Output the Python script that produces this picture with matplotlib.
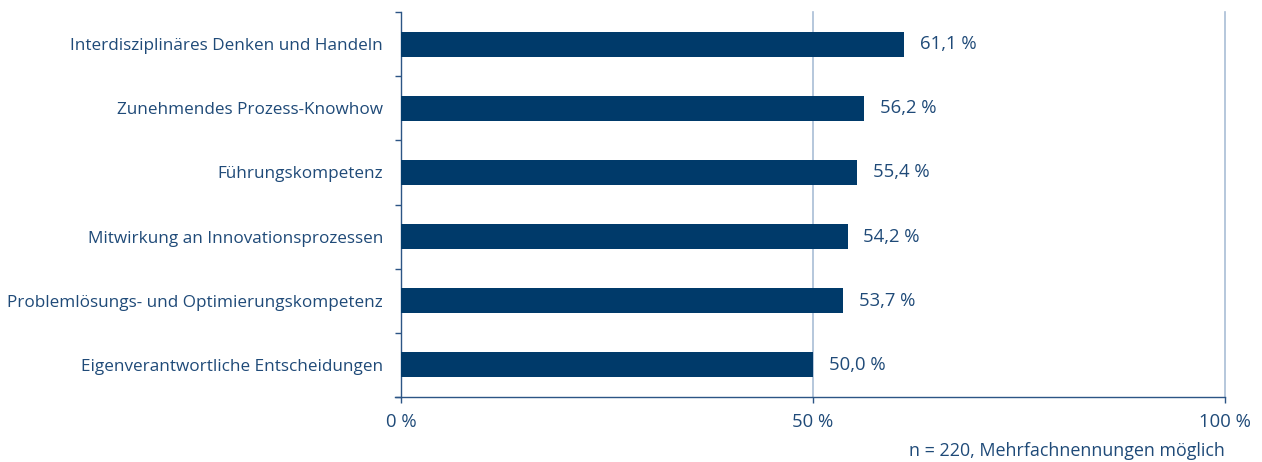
import matplotlib
matplotlib.use("Agg")
import matplotlib.pyplot as plt
import numpy as np

categories = [
    "Interdisziplinäres Denken und Handeln",
    "Zunehmendes Prozess-Knowhow",
    "Führungskompetenz",
    "Mitwirkung an Innovationsprozessen",
    "Problemlösungs- und Optimierungskompetenz",
    "Eigenverantwortliche Entscheidungen",
]
values = [61.1, 56.2, 55.4, 54.2, 53.7, 50.0]
value_labels = ["61,1 %", "56,2 %", "55,4 %", "54,2 %", "53,7 %", "50,0 %"]
xticks = [0, 50, 100]
xtick_labels = ["0 %", "50 %", "100 %"]
note = "n = 220, Mehrfachnennungen möglich"

bar_color = "#003a6a"
text_color = "#1f4a78"
axis_color = "#2c5585"
grid_color = "#a9bdd6"

plt.rcParams['font.family'] = ['Open Sans', 'DejaVu Sans']

fig = plt.figure(figsize=(12.62, 4.62), dpi=100)
ax = fig.add_axes([401/1262, 1-397/462, (1225-401)/1262, (397-12)/462])

n = len(categories)
y = np.arange(n)
ax.barh(y, values, height=0.39, color=bar_color, zorder=3)
ax.set_ylim(n - 0.5, -0.5)
ax.set_xlim(0, 100)

for yi, v, lab in zip(y, values, value_labels):
    ax.text(v + 1.9, yi, lab, va='center', ha='left', fontsize=13.3, color=text_color)

ax.set_yticks(y)
ax.set_yticklabels(categories, fontsize=12.3, color=text_color)
ax.tick_params(axis='y', which='major', length=0, pad=13)
ax.set_yticks(np.arange(n + 1) - 0.5, minor=True)
ax.tick_params(axis='y', which='minor', length=4.5, width=1, color=axis_color, direction='out')

ax.set_xticks(xticks)
ax.set_xticklabels(xtick_labels, fontsize=13.3, color=text_color)
ax.tick_params(axis='x', length=4.5, width=1, color=axis_color, pad=7, direction='out')

for x in xticks[1:]:
    ax.axvline(x, color=grid_color, lw=1.2, zorder=1, clip_on=False)

for s in ['top', 'right']:
    ax.spines[s].set_visible(False)
ax.spines['left'].set_color(axis_color)
ax.spines['bottom'].set_color(axis_color)
ax.spines['left'].set_linewidth(1)
ax.spines['bottom'].set_linewidth(1)
ax.spines['bottom'].set_bounds(-0.75, 100)

fig.text(1225/1262, 1-451/462, note, ha='right', va='center', fontsize=12.9, color=text_color)

fig.savefig("out.png", dpi=100)
